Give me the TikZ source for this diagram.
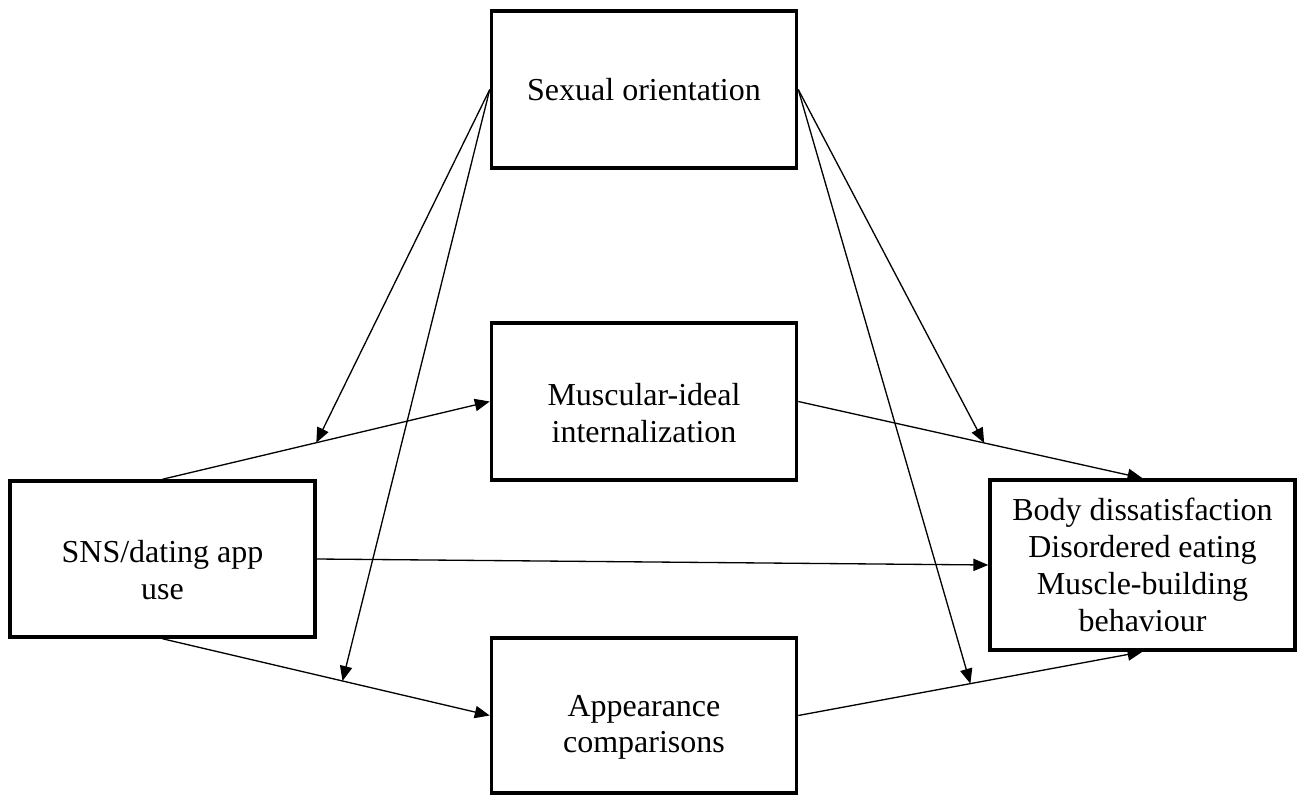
\documentclass[tikz,border=0pt]{standalone}
\usepackage{fontspec}
\setmainfont{Liberation Serif}
\usetikzlibrary{arrows.meta}
\newcommand{\boxstrut}{\rule{0pt}{25.5pt}}

\begin{document}
\begin{tikzpicture}[
    box/.style={draw, line width=2pt, align=center, inner sep=0pt,
        minimum width=6.1cm, minimum height=3.14cm,
        font=\fontsize{18.2}{21}\selectfont},
    path/.style={-{Triangle[length=8.5pt,width=7pt]}, line width=0.75pt}
]
    \useasboundingbox (0,0) rectangle (26.06,15.92);

    % variables
    \node[box] (orient) at (12.88,14.13) {Sexual orientation};
    \node[box] (ideal) at (12.88,7.89) {\boxstrut Muscular-ideal\\internalization};
    \node[box, minimum height=3.12cm] (sns) at (3.25,4.74) {\boxstrut SNS/dating app\\use};
    \node[box, minimum height=3.10cm] (comp) at (12.88,1.61) {\boxstrut Appearance\\comparisons};
    \node[box, minimum height=3.40cm] (outcome) at (22.85,4.62)
        {Body dissatisfaction\\Disordered eating\\Muscle-building\\behaviour};

    % direct and indirect paths
    \draw[path] (sns.north) -- coordinate[pos=0.47] (a1) (ideal.west);
    \draw[path] (sns.south) -- coordinate[pos=0.55] (a2) (comp.west);
    \draw[path] (sns.east) -- (outcome.west);
    \draw[path] (ideal.east) -- coordinate[pos=0.54] (b1) (outcome.north);
    \draw[path] (comp.east) -- coordinate[pos=0.5] (b2) (outcome.south);

    % moderation
    \draw[path] (orient.west) -- (a1);
    \draw[path] (orient.west) -- (a2);
    \draw[path] (orient.east) -- (b1);
    \draw[path] (orient.east) -- (b2);
\end{tikzpicture}
\end{document}
